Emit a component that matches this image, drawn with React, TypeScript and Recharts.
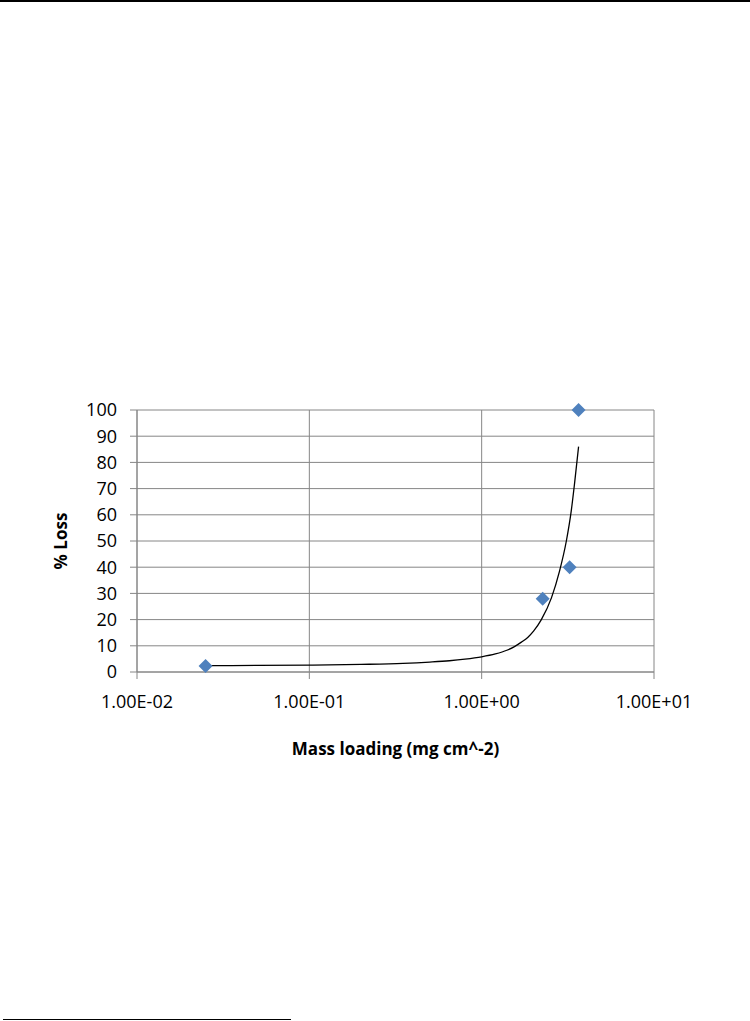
import React from 'react';
import { ComposedChart, Line, Scatter, XAxis, YAxis, CartesianGrid } from 'recharts';

// measured points
const massLoading = [0.025, 2.26, 3.24, 3.65];
const percentLoss = [2.3, 28, 40, 100];

// trendline
const trendMass = [0.025, 0.05, 0.1, 0.2, 0.35, 0.5, 0.65, 0.8, 1.0, 1.2, 1.4, 1.55, 1.7, 1.85, 2.0, 2.22, 2.54, 2.83, 3.1, 3.31, 3.46, 3.65];
const trendLoss = [2.4, 2.5, 2.6, 2.9, 3.3, 3.8, 4.3, 4.9, 5.8, 6.9, 8.3, 9.7, 11.4, 13.2, 15.6, 20.0, 28.3, 38.5, 50.0, 61.5, 72.0, 86.0];

const xTicks = [0.01, 0.1, 1, 10];
const xTickLabels = ['1.00E-02', '1.00E-01', '1.00E+00', '1.00E+01'];
const yTicks = [0, 10, 20, 30, 40, 50, 60, 70, 80, 90, 100];

const points = massLoading.map((x, i) => ({ x, y: percentLoss[i] }));
const trend = trendMass.map((x, i) => ({ x, y: trendLoss[i] }));

const GRID = '#868686';
const FONT = '"Open Sans", sans-serif';

const Diamond = (props: any) => {
  const { cx, cy } = props;
  const r = 7;
  return (
    <polygon
      points={`${cx},${cy - r} ${cx + r},${cy} ${cx},${cy + r} ${cx - r},${cy}`}
      fill="#4F81BD"
    />
  );
};

export default function App() {
  return (
    <div style={{ position: 'absolute', top: 0, left: 0, width: 750, height: 1021, background: '#fff', fontFamily: FONT }}>
      <div style={{ position: 'absolute', top: 0, left: 0, width: 750, height: 2, background: '#000' }} />
      <div style={{ position: 'absolute', top: 1019, left: 3, width: 288, height: 1, background: '#000' }} />
      <div style={{ position: 'absolute', top: 0, left: 0 }}>
        <ComposedChart width={750} height={780} margin={{ top: 410, right: 96, left: 0, bottom: 0 }}>
          <CartesianGrid stroke={GRID} strokeWidth={1} />
          <XAxis
            dataKey="x"
            type="number"
            scale="log"
            domain={[0.01, 10]}
            ticks={xTicks}
            allowDataOverflow
            height={108}
            axisLine={{ stroke: GRID }}
            tickLine={{ stroke: GRID }}
            tickSize={7}
            tickMargin={16}
            tick={{ fill: '#000', fontSize: 18, fontFamily: FONT }}
            tickFormatter={(v: number) => xTickLabels[xTicks.indexOf(v)] ?? ''}
            label={{
              value: 'Mass loading (mg cm^-2)',
              position: 'insideBottom',
              offset: 25,
              style: { fill: '#000', fontSize: 17, fontWeight: 700, fontFamily: FONT },
            }}
          />
          <YAxis
            type="number"
            domain={[0, 100]}
            ticks={yTicks}
            interval={0}
            width={137}
            axisLine={{ stroke: GRID }}
            tickLine={{ stroke: GRID }}
            tickSize={7}
            tickMargin={13}
            tick={{ fill: '#000', fontSize: 18, fontFamily: FONT }}
            label={{
              value: '% Loss',
              angle: -90,
              position: 'insideLeft',
              offset: 61,
              style: { textAnchor: 'middle', fill: '#000', fontSize: 17, fontWeight: 700, fontFamily: FONT },
            }}
          />
          <Line
            data={trend}
            dataKey="y"
            type="monotone"
            stroke="#000"
            strokeWidth={1.3}
            dot={false}
            activeDot={false}
            isAnimationActive={false}
          />
          <Scatter data={points} dataKey="y" shape={Diamond} isAnimationActive={false} />
        </ComposedChart>
      </div>
    </div>
  );
}
